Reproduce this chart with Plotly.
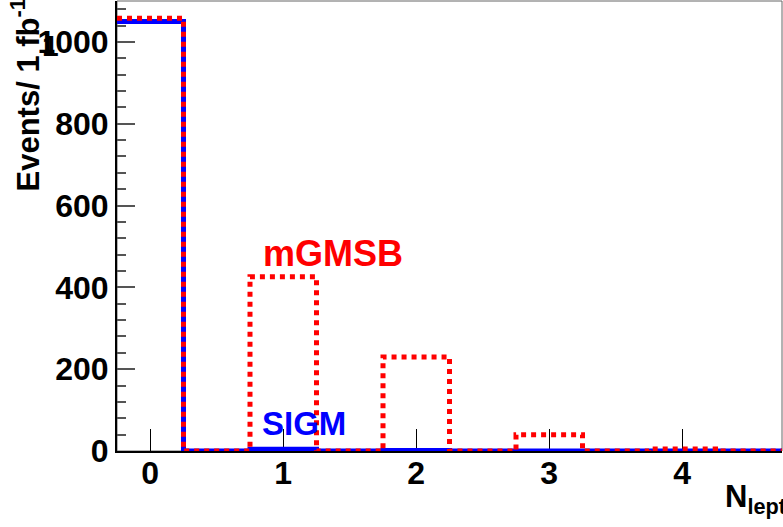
import plotly.graph_objects as go

# ---- data ----
bin_centers = [0.0, 0.5, 1.0, 1.5, 2.0, 2.5, 3.0, 3.5, 4.0, 4.5]
bin_width = 0.5
sigm_events = [1050, 0, 4, 0, 1, 0, 0, 0, 0, 0]
mgmsb_events = [1058, 0, 426, 0, 230, 0, 40, 0, 5, 0]
x_ticks = [0, 1, 2, 3, 4]
y_ticks = [0, 200, 400, 600, 800, 1000]


def step_xy(centers, values, width):
    xs = [c - width / 2 for c in centers] + [centers[-1] + width / 2]
    ys = list(values) + [values[-1]]
    return xs, ys


W, H = 783, 527
L, R, T, B = 117, 1, 1, 76
PW, PH = W - L - R, H - T - B


def px(x):
    return (x - L) / PW


def py(y):
    return (H - B - y) / PH


FONT = "Liberation Sans, Arial, sans-serif"
TICKF = 32

fig = go.Figure()
sx, sy = step_xy(bin_centers, sigm_events, bin_width)
mx, my = step_xy(bin_centers, mgmsb_events, bin_width)
fig.add_trace(go.Scatter(x=sx, y=sy, mode="lines", line_shape="hv",
                         line=dict(color="#0000ff", width=5),
                         cliponaxis=False, showlegend=False, name="SIGM",
                         hoverinfo="skip"))
fig.add_trace(go.Scatter(x=mx, y=my, mode="lines", line_shape="hv",
                         line=dict(color="#ff0000", width=5, dash="5px,5px"),
                         cliponaxis=False, showlegend=False, name="mGMSB",
                         hoverinfo="skip"))

fig.update_layout(
    width=W, height=H,
    margin=dict(l=L, r=R, t=T, b=B, pad=0),
    paper_bgcolor="white", plot_bgcolor="white",
    font=dict(family=FONT, size=TICKF, color="black", weight="bold"),
    xaxis=dict(range=[-0.25, 4.75], tickvals=x_ticks, ticks="inside", ticklen=22,
               tickwidth=1, tickcolor="black", showgrid=False, zeroline=False,
               showline=True, linecolor="black", linewidth=2, layer="below traces",
               tickfont=dict(family=FONT, size=TICKF, weight="bold"), ticklabelstandoff=-7),
    yaxis=dict(range=[0, 1100], tickvals=y_ticks, ticks="inside", ticklen=18,
               tickwidth=2, tickcolor="#555", showgrid=False, zeroline=False,
               showline=True, linecolor="black", linewidth=2, layer="below traces",
               tickfont=dict(family=FONT, size=TICKF, weight="bold"), ticklabelstandoff=0,
               minor=dict(tickvals=[v for v in range(40, 1100, 40) if v % 200],
                          ticks="inside", ticklen=9, tickwidth=2, tickcolor="#555")),
    shapes=[dict(type="rect", xref="paper", yref="paper", x0=0, x1=1, y0=0, y1=1,
                 line=dict(color="#666", width=1), layer="below")],
    annotations=[
        dict(text="mGMSB", xref="paper", yref="paper", x=px(261), y=py(254),
             xanchor="left", yanchor="middle", showarrow=False,
             font=dict(family=FONT, size=36, color="#ff0000", weight="bold")),
        dict(text="SIGM", xref="paper", yref="paper", x=px(260), y=py(423),
             xanchor="left", yanchor="middle", showarrow=False,
             font=dict(family=FONT, size=33, color="#0000ff", weight="bold")),
        dict(text="N<sub>lept</sub>", xref="paper", yref="paper", x=px(723), y=py(499),
             xanchor="left", yanchor="middle", showarrow=False,
             font=dict(family=FONT, size=31, color="black", weight="bold")),
        dict(text="Events/ 1 fb<sup>-1</sup>", xref="paper", yref="paper",
             x=px(3), y=py(194), xanchor="left", yanchor="bottom", textangle=-90,
             showarrow=False,
             font=dict(family=FONT, size=31, color="black", weight="bold")),
        dict(text="1", xref="paper", yref="paper", x=px(50), y=py(46),
             xanchor="center", yanchor="middle", showarrow=False,
             font=dict(family=FONT, size=30, color="black", weight="bold")),
    ],
)

fig.write_html("out.html", config={"displayModeBar": False},
               post_script="document.body.style.margin='0';")
